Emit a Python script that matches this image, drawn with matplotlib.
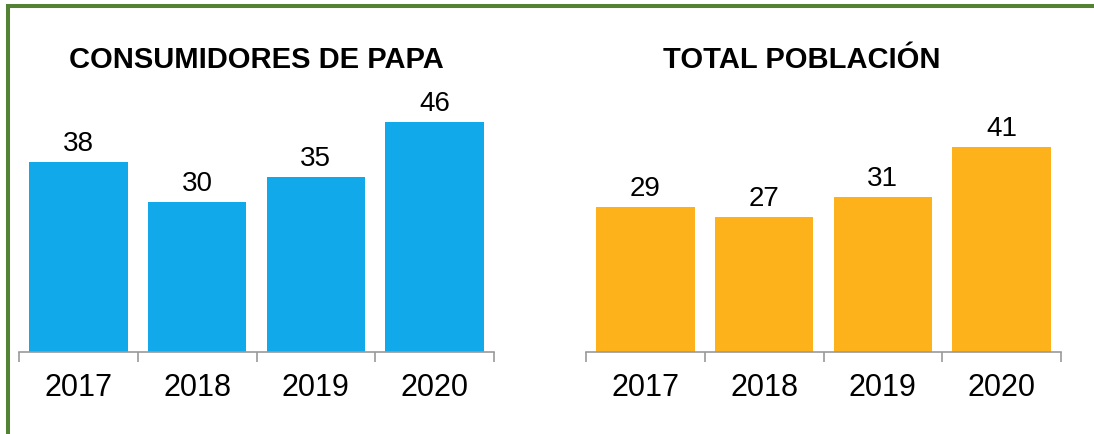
import numpy as np
import matplotlib.pyplot as plt
from matplotlib.lines import Line2D

plt.rcParams['font.family'] = ['Liberation Sans', 'DejaVu Sans']

years = ['2017', '2018', '2019', '2020']
consumidores = [38, 30, 35, 46]
poblacion = [29, 27, 31, 41]

W, H = 1094, 434
fig = plt.figure(figsize=(W / 100, H / 100), dpi=100)

# border (top + left only)
green = '#548235'
fig.add_artist(Line2D([7.5 / W, 7.5 / W], [0, 1 - 4 / H], transform=fig.transFigure,
                      color=green, lw=2.9, solid_capstyle='butt'))
fig.add_artist(Line2D([6 / W, 1], [1 - 5.5 / H, 1 - 5.5 / H], transform=fig.transFigure,
                      color=green, lw=2.9, solid_capstyle='butt'))


def panel(left_px, vals, color, title, title_x):
    ax = fig.add_axes([left_px / W, 82 / H, 475 / W, 250 / H])
    x = np.arange(len(years))
    bars = ax.bar(x, vals, width=0.83, color=color)
    for b, v in zip(bars, vals):
        ax.annotate(str(v), (b.get_x() + b.get_width() / 2, v), xytext=(0, 3.5),
                    textcoords='offset points', ha='center', va='bottom', fontsize=20)
    ax.set_xlim(-0.5, len(years) - 0.5)
    ax.set_ylim(0, 50)
    for s in ['top', 'right', 'left']:
        ax.spines[s].set_visible(False)
    ax.spines['bottom'].set_color('#9a9a9a')
    ax.spines['bottom'].set_linewidth(1.2)
    ax.set_yticks([])
    ax.set_xticks(x)
    ax.set_xticklabels(years, fontsize=22)
    ax.tick_params(axis='x', which='major', length=0, pad=15)
    ax.set_xticks(np.arange(len(years) + 1) - 0.5, minor=True)
    ax.tick_params(axis='x', which='minor', length=7, color='#9a9a9a', width=1.2)
    ax.text(title_x, 1.136, title, transform=ax.transAxes, ha='center', va='baseline',
            fontsize=21, fontweight='bold')
    return ax


panel(19, consumidores, '#12A9EA', 'CONSUMIDORES DE PAPA', 0.5)
panel(586, poblacion, '#FDB11A', 'TOTAL POBLACIÓN', 0.455)

fig.savefig('out.png', dpi=100)
